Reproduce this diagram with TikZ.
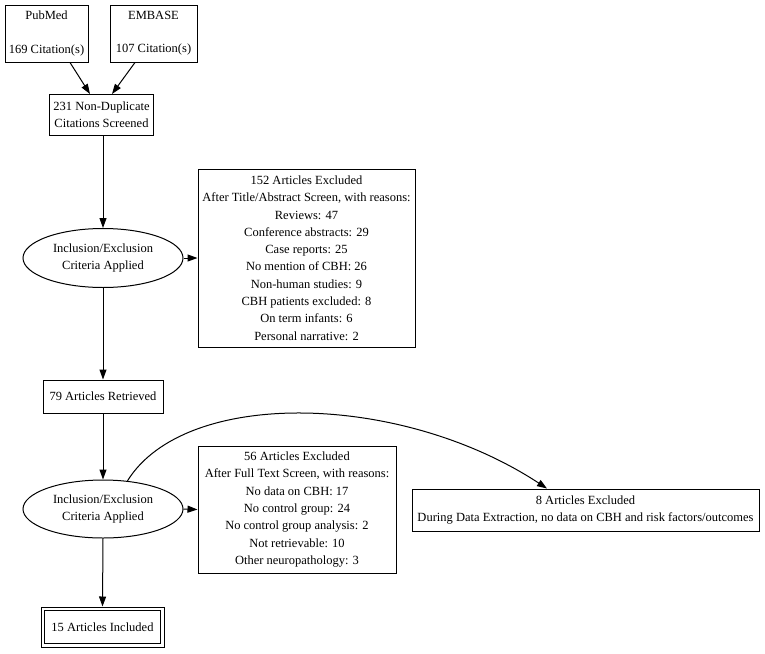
\documentclass[tikz,border=0pt]{standalone}
\usepackage{fontspec}
\setmainfont{Liberation Serif}
\usetikzlibrary{shapes.geometric,arrows.meta}
\begin{document}
\begin{tikzpicture}[x=1pt,y=-1pt,
  every node/.style={font=\fontsize{12.5}{17.3}\selectfont, align=center, inner sep=0pt},
  boxnode/.style={draw, line width=1pt, rectangle},
  ellnode/.style={draw, line width=1pt, ellipse},
  arr/.style={line width=1pt, -{Triangle[length=10pt,width=7pt]}}]
\useasboundingbox[fill=white] (0,0) rectangle (765,653);

\node[boxnode, minimum width=83pt, minimum height=57pt] (pub) at (46.5,33.5) {PubMed\\[16pt]169 Citation(s)};
\node[boxnode, minimum width=87pt, minimum height=57pt] (emb) at (153.5,33.5) {EMBASE\\[16pt]107 Citation(s)};
\node[boxnode, minimum width=104pt, minimum height=41pt] (scr) at (101.5,115) {231 Non-Duplicate\\Citations Screened};
\node[ellnode, minimum width=160pt, minimum height=59pt] (inc1) at (103,258) {Inclusion/Exclusion\\Criteria Applied};
\node[boxnode, minimum width=217pt, minimum height=178pt] (ex1) at (306.5,258) {152 Articles Excluded\\After Title/Abstract Screen, with reasons:\\Reviews: 47\\Conference abstracts: 29\\Case reports: 25\\No mention of CBH: 26\\Non-human studies: 9\\CBH patients excluded: 8\\On term infants: 6\\Personal narrative: 2};
\node[boxnode, minimum width=120pt, minimum height=33pt] (ret) at (103,396.5) {79 Articles Retrieved};
\node[ellnode, minimum width=160pt, minimum height=58pt] (inc2) at (103,509) {Inclusion/Exclusion\\Criteria Applied};
\node[boxnode, minimum width=198pt, minimum height=127pt] (ex2) at (297,509.5) {56 Articles Excluded\\After Full Text Screen, with reasons:\\No data on CBH: 17\\No control group: 24\\No control group analysis: 2\\Not retrievable: 10\\Other neuropathology: 3};
\node[boxnode, minimum width=347pt, minimum height=42pt] (ex3) at (585.5,510) {8 Articles Excluded\\During Data Extraction, no data on CBH and risk factors/outcomes};
\node[boxnode, minimum width=123pt, minimum height=40pt] (fin) at (102.5,627) {15 Articles Included};
\draw[line width=1pt] ([xshift=4pt,yshift=-4pt]fin.north west) rectangle ([xshift=-4pt,yshift=4pt]fin.south east);

\draw[arr] ([xshift=23.5pt]pub.south) -- ([xshift=-11.5pt]scr.north);
\draw[arr] ([xshift=-18.5pt]emb.south) -- ([xshift=10.5pt]scr.north);
\draw[arr] (scr.south -| inc1.north) -- (inc1.north);
\draw[arr] (inc1.east) -- (ex1.west);
\draw[arr] (inc1.south) -- (ret.north);
\draw[arr] (ret.south) -- (inc2.north);
\draw[arr] (inc2.east) -- (ex2.west);
\draw[arr] (inc2.south) -- (fin.north);
\draw[arr] (inc2.49) .. controls (185,388) and (400,392) .. ([xshift=-38.5pt]ex3.north);
\end{tikzpicture}
\end{document}
